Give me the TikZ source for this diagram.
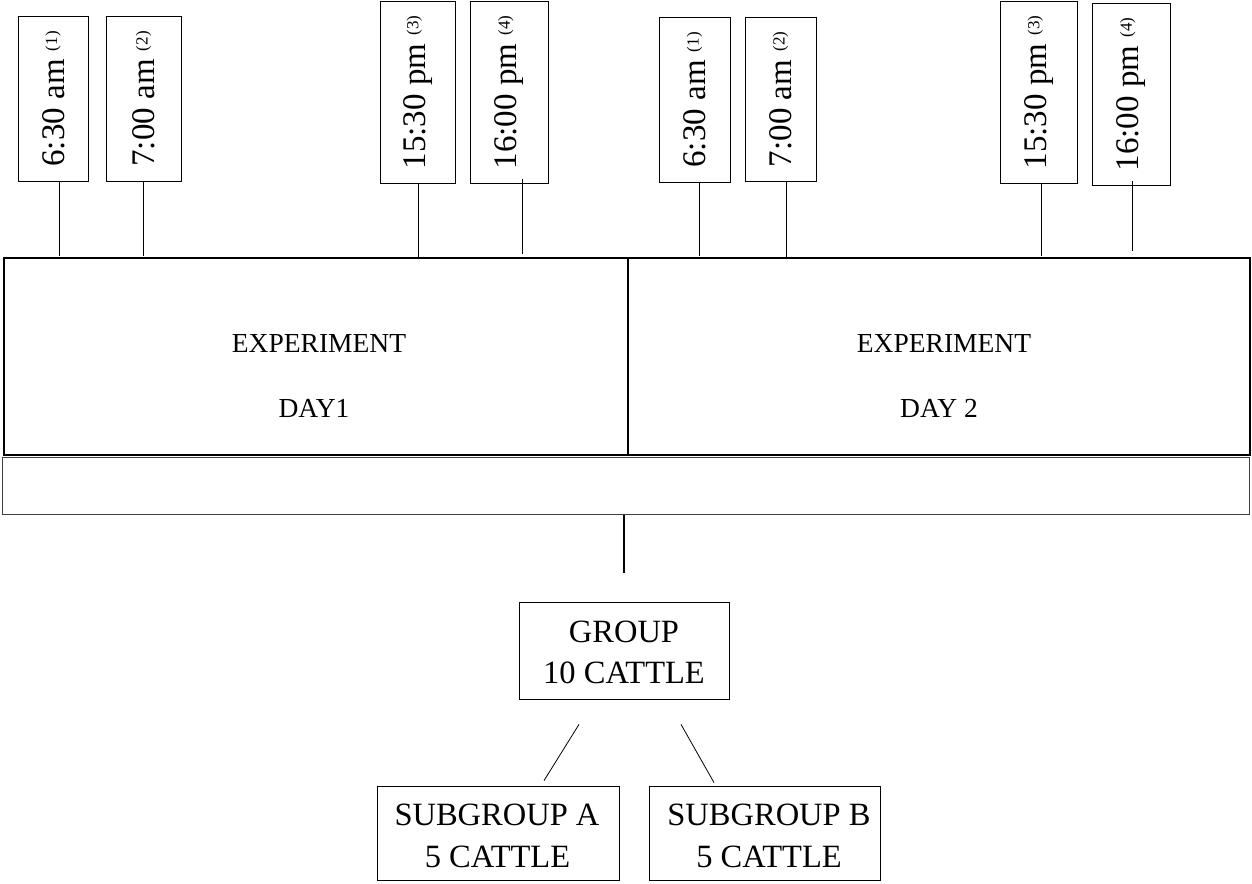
\documentclass[tikz,border=0pt]{standalone}
\usepackage{fontspec}
\setmainfont{Liberation Serif}
\newcommand{\tlab}[2]{\rotatebox{90}{\fontsize{33}{33}\selectfont #1\ \raisebox{7pt}{\fontsize{17}{17}\selectfont(#2)}}}
\begin{document}
\begin{tikzpicture}[x=1pt,y=-1pt,
  tbox/.style={draw, line width=0.8pt, inner sep=0pt, anchor=north west, minimum height=165pt},
  conn/.style={draw, line width=0.8pt},
  daybox/.style={draw, line width=2pt, inner sep=0pt, minimum height=197pt},
  exptxt/.style={font=\fontsize{27.5}{27.5}\selectfont, anchor=base, inner sep=0pt},
  grptxt/.style={font=\fontsize{32.5}{32.5}\selectfont, anchor=base, inner sep=0pt},
  gbox/.style={draw, line width=0.8pt, inner sep=0pt}
]
\useasboundingbox (0,0) rectangle (1252,883);
% time boxes day 1
\node[tbox, minimum width=70pt] (b1) at (18,16) {\tlab{6:30 am}{1}};
\node[tbox, minimum width=75pt] (b2) at (106,16) {\tlab{7:00 am}{2}};
\node[tbox, minimum width=75pt, minimum height=182pt] (b3) at (380,1) {\tlab{15:30 pm}{3}};
\node[tbox, minimum width=78pt, minimum height=182pt] (b4) at (470,1) {\tlab{16:00 pm}{4}};
% time boxes day 2
\node[tbox, minimum width=71pt] (b5) at (659,17) {\tlab{6:30 am}{1}};
\node[tbox, minimum width=71pt, minimum height=164pt] (b6) at (745,17) {\tlab{7:00 am}{2}};
\node[tbox, minimum width=77pt, minimum height=182pt] (b7) at (1000,1) {\tlab{15:30 pm}{3}};
\node[tbox, minimum width=78pt, minimum height=182pt] (b8) at (1092,3) {\tlab{16:00 pm}{4}};
% main day boxes
\node[daybox, minimum width=624pt] (d1) at (316,356.5) {};
\node[daybox, minimum width=622pt] (d2) at (939,356.5) {};
\node[exptxt] (e1) at (319,352) {EXPERIMENT};
\node[exptxt] (t1) at (314,417) {DAY1};
\node[exptxt] (e2) at (944,352) {EXPERIMENT};
\node[exptxt] (t2) at (939,417) {DAY 2};
% connectors from time boxes
\draw[conn] ([xshift=6pt]b1.south) -- ++(0,74);
\draw[conn] ([xshift=-0.5pt]b2.south) -- ++(0,74);
\draw[conn] ([xshift=0.5pt]b3.south) -- ++(0,74);
\draw[conn] ([shift={(13,-5)}]b4.south) -- ++(0,75);
\draw[conn] ([xshift=4.5pt]b5.south) -- ++(0,73);
\draw[conn] ([xshift=5.5pt]b6.south) -- ++(0,76);
\draw[conn] ([xshift=2.5pt]b7.south) -- ++(0,72);
\draw[conn] ([shift={(1,-5)}]b8.south) -- ++(0,70);
% wide box
\node[draw=black!75, line width=1pt, inner sep=0pt, minimum width=1247pt, minimum height=57pt] (w) at (625.5,485.5) {};
\draw[line width=1.2pt] ([xshift=-1.5pt]w.south) -- ++(0,58);
% group
\node[gbox, minimum width=210pt, minimum height=97pt] (g) at (624,650.5) {};
\node[grptxt] (g1) at (624,642) {GROUP};
\node[grptxt] (g2) at (624,683) {10 CATTLE};
% subgroups
\node[gbox, minimum width=242pt, minimum height=94pt] (sa) at (498,833) {};
\node[grptxt] (sa1) at (497,825) {SUBGROUP A};
\node[grptxt] (sa2) at (497.5,867) {5 CATTLE};
\node[gbox, minimum width=231pt, minimum height=94pt] (sb) at (764.5,833) {};
\node[grptxt] (sb1) at (769,825) {SUBGROUP B};
\node[grptxt] (sb2) at (769,867) {5 CATTLE};
\draw[conn] ([shift={(-45,25)}]g.south) -- ([shift={(46,-5)}]sa.north);
\draw[conn] ([shift={(57,25)}]g.south) -- ([shift={(-50.5,-3)}]sb.north);
\end{tikzpicture}
\end{document}
